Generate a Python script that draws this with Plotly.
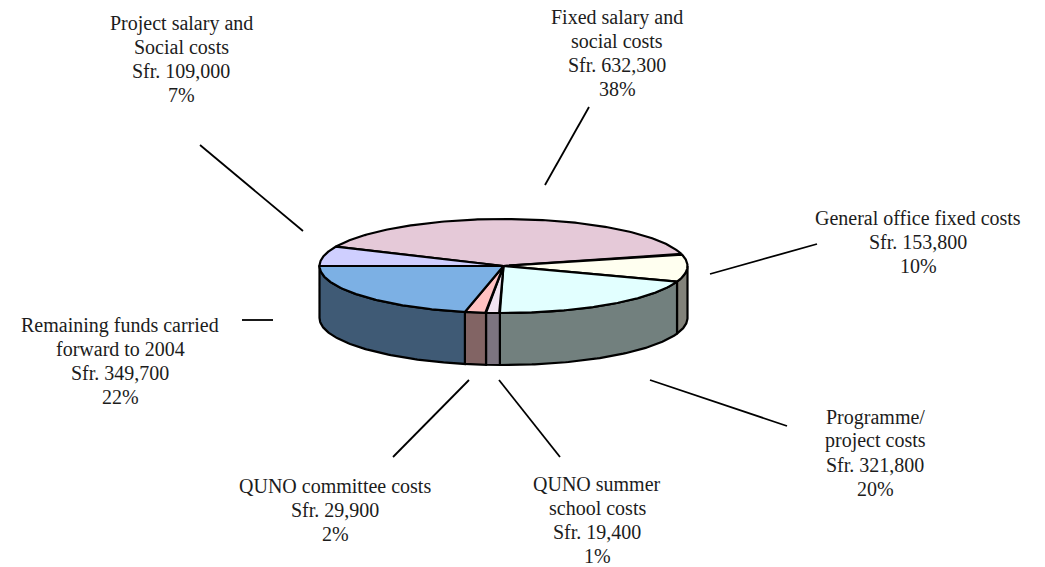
import numpy as np
import plotly.graph_objects as go

categories = ["Fixed salary and social costs", "General office fixed costs", "Programme/project costs",
              "QUNO summer school costs", "QUNO committee costs", "Remaining funds carried forward to 2004",
              "Project salary and Social costs"]
values = [632300, 153800, 321800, 19400, 29900, 349700, 109000]
percent_labels = ["38%", "10%", "20%", "1%", "2%", "22%", "7%"]
label_lines = [["Fixed salary and", "social costs"], ["General office fixed costs"], ["Programme/", "project costs"],
               ["QUNO summer", "school costs"], ["QUNO committee costs"], ["Remaining funds carried", "forward to 2004"],
               ["Project salary and", "Social costs"]]
top_colors = ["#E5C9D8", "#FFFFF0", "#E2FFFF", "#F1E4F1", "#FFC1C1", "#7CB0E4", "#CFCFFF"]
side_colors = ["#7F6F78", "#82827A", "#72807E", "#7C7480", "#826464", "#3F5A75", "#6F6F8F"]

CX, CY, RX, RY, DEPTH = 503.5, 266, 184, 47, 52
START = 204.3
LINE_STEP = 23.9
label_pos = [(617, 17), (918, 218), (875, 417), (597, 484), (335, 486), (120, 325), (181, 23)]
leaders = [((545, 185), (589, 107)), ((710, 274), (817, 244)), ((650, 380), (787, 426)),
           ((499, 380), (560, 457)), ((469, 380), (393, 457)), ((242, 320), (273, 320)), ((303, 231), (200, 145))]

frac = np.array(values) / sum(values)
edges = START + 360 * np.concatenate([[0], np.cumsum(frac)])

def ell(t, dy=0):
    r = np.radians(t)
    return CX + RX * np.cos(r), CY + RY * np.sin(r) + dy

fig = go.Figure()
# side walls: only the front half of the rim is visible
for i in range(len(values)):
    a, b = edges[i], edges[i + 1]
    for k in (-360, 0, 360):
        lo, hi = max(a + k, 0), min(b + k, 180)
        if hi > lo:
            t = np.linspace(lo, hi, 80)
            x1, y1 = ell(t)
            x2, y2 = ell(t[::-1], DEPTH)
            fig.add_trace(go.Scatter(x=np.r_[x1, x2, x1[0]], y=np.r_[y1, y2, y1[0]], mode="lines", fill="toself",
                                     fillcolor=side_colors[i], line=dict(color="black", width=2.2),
                                     hoverinfo="skip", showlegend=False))
# top face wedges
for i in range(len(values)):
    t = np.linspace(edges[i], edges[i + 1], 160)
    x1, y1 = ell(t)
    fig.add_trace(go.Scatter(x=np.r_[CX, x1, CX], y=np.r_[CY, y1, CY], mode="lines", fill="toself",
                             fillcolor=top_colors[i], line=dict(color="black", width=2.2),
                             name=categories[i], text=f"{categories[i]}: {values[i]:,}", hoverinfo="text", showlegend=False))
# leader lines
for (p, q) in leaders:
    fig.add_trace(go.Scatter(x=[p[0], q[0]], y=[p[1], q[1]], mode="lines", line=dict(color="black", width=1.8),
                             hoverinfo="skip", showlegend=False))
# labels, one annotation per line to keep the tight line spacing
for i in range(len(values)):
    lines = label_lines[i] + [f"Sfr. {values[i]:,}", percent_labels[i]]
    for j, s in enumerate(lines):
        fig.add_annotation(x=label_pos[i][0], y=label_pos[i][1] + j * LINE_STEP, text=s, showarrow=False,
                           xanchor="center", yanchor="middle", align="center",
                           font=dict(family="Liberation Serif", size=20, color="#1c1c1c"))

fig.update_xaxes(range=[0, 1045], visible=False, fixedrange=True)
fig.update_yaxes(range=[567, 0], visible=False, fixedrange=True)
fig.update_layout(width=1045, height=567, margin=dict(l=0, r=0, t=0, b=0),
                  paper_bgcolor="white", plot_bgcolor="white", showlegend=False)
fig.write_html("out.html", config={"displayModeBar": False},
               post_script="document.body.style.margin='0';document.body.style.overflow='hidden';")
